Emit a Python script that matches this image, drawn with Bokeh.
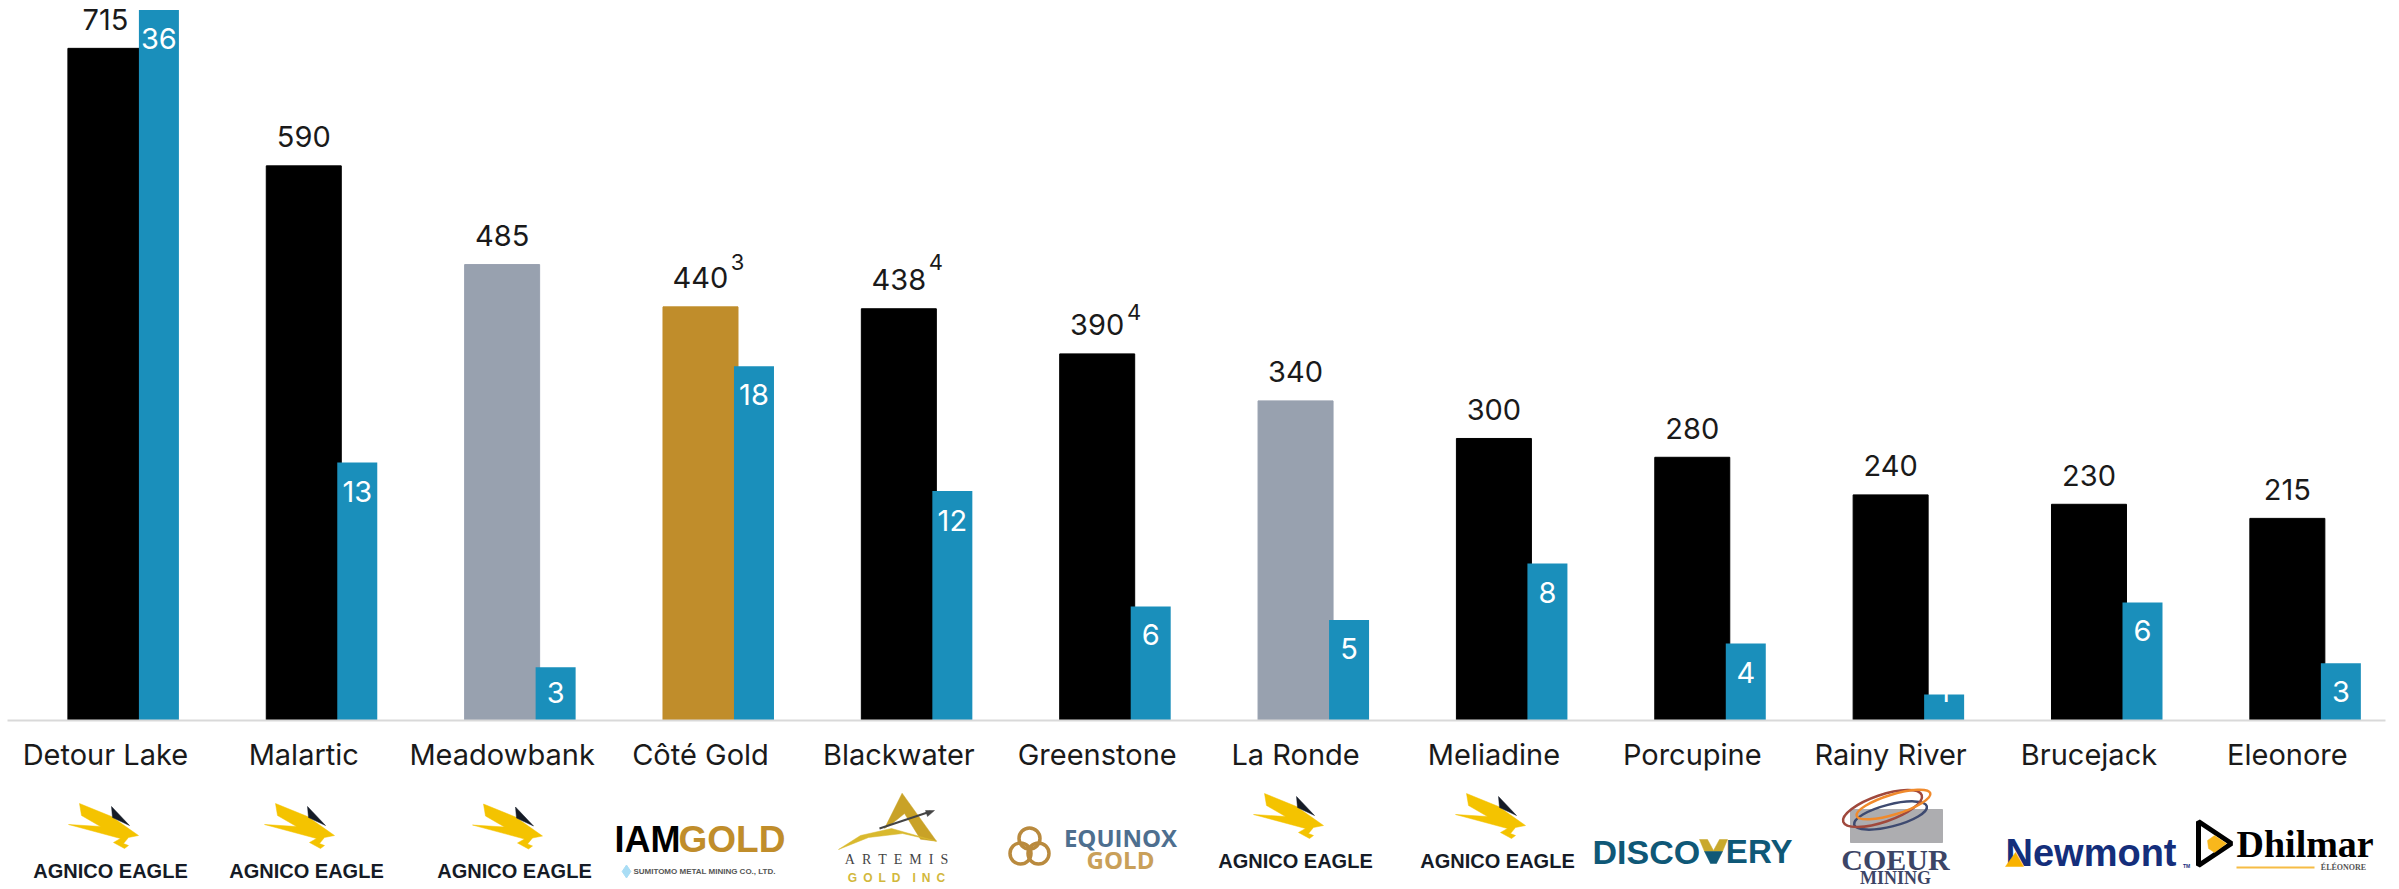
from bokeh.plotting import figure
from bokeh.layouts import column
from bokeh.models import Range1d, ColumnDataSource, FixedTicker
from bokeh.core.properties import value
from bokeh.embed import file_html
from bokeh.resources import INLINE

mines = ["Detour Lake", "Malartic", "Meadowbank", "Côté Gold", "Blackwater", "Greenstone",
         "La Ronde", "Meliadine", "Porcupine", "Rainy River", "Brucejack", "Eleonore"]
production = [715, 590, 485, 440, 438, 390, 340, 300, 280, 240, 230, 215]
bar_colors = ["#000000", "#000000", "#98A1AF", "#C08D2B", "#000000", "#000000",
              "#98A1AF", "#000000", "#000000", "#000000", "#000000", "#000000"]
second_values = [36, 13.07, 2.7, 17.95, 11.63, 5.78, 5.09, 7.95, 3.9, 1.32, 5.98, 2.9]
second_labels = ["36", "13", "3", "18", "12", "6", "5", "8", "4", "", "6", "3"]
footnotes = ["", "", "", "3", "4", "4", "", "", "", "", "", ""]

FONT = "Inter"
W = 2392
xs = list(range(len(mines)))
p = figure(width=W, height=781, output_backend="svg", toolbar_location=None,
           x_range=Range1d(-0.4936, 11.4948), y_range=Range1d(0, 757.4),
           min_border_left=7, min_border_right=7, min_border_top=8, min_border_bottom=61)
p.extra_y_ranges = {"second": Range1d(0, 36.07)}
p.xgrid.visible = False
p.ygrid.visible = False
p.yaxis.visible = False
p.outline_line_color = None
p.background_fill_color = "white"

ax = p.xaxis[0]
ax.ticker = FixedTicker(ticks=xs)
ax.major_label_overrides = {i: m for i, m in enumerate(mines)}
ax.major_tick_line_color = None
ax.minor_tick_line_color = None
ax.axis_line_color = "#D9D9D9"
ax.axis_line_width = 2
ax.major_label_text_font = FONT
ax.major_label_text_font_size = "29px"
ax.major_label_text_color = "#1A1A1A"
ax.major_label_standoff = 10

src = ColumnDataSource(dict(x=xs, top=production, color=bar_colors, label=[str(v) for v in production]))
p.vbar(x="x", top="top", bottom=0, width=75 / 198.36, color="color", source=src)

offs = 53.5 / 198.36
src2 = ColumnDataSource(dict(x=[i + offs for i in xs], top=second_values, label=second_labels,
                             dy=[28.5, 28.5, 25, 28.5, 29.5, 28.5, 28.5, 28.5, 29, 0, 28.5, 28.5]))
p.vbar(x="x", top="top", bottom=0, width=40 / 198.36, fill_color="#1A8FBB", line_color="#1A8FBB",
       line_width=0, source=src2, y_range_name="second")
p.text(x="x", y="top", text="label", source=src2, y_range_name="second", y_offset="dy",
       text_color="white", text_font=value(FONT), text_font_size="29px",
       text_align="center", text_baseline="middle")
# The label of the smallest blue bar sits white-on-white above the bar in the source
p.text(x=[9 + offs], y=[second_values[9]], text=["1"], y_range_name="second", y_offset=-3,
       text_color="white", text_font=value(FONT), text_font_size="29px",
       text_align="center", text_baseline="middle")

p.text(x="x", y="top", text="label", source=src, y_offset=-29,
       text_color="#1A1A1A", text_font=value(FONT), text_font_size="29px",
       text_align="center", text_baseline="middle")

note_i = [i for i, f in enumerate(footnotes) if f]
src3 = ColumnDataSource(dict(x=note_i, y=[production[i] for i in note_i], label=[footnotes[i] for i in note_i],
                             dy=[-44.7, -47, -41.7]))
p.text(x="x", y="y", text="label", source=src3, x_offset=37, y_offset="dy",
       text_color="#1A1A1A", text_font=value(FONT), text_font_size="22px",
       text_align="center", text_baseline="middle")

# ---- company logos, redrawn in the strip under the axis (units are page pixels)
q = figure(width=W, height=108, output_backend="svg", toolbar_location=None,
           x_range=Range1d(7, 2385), y_range=Range1d(889, 781),
           min_border_left=7, min_border_right=7, min_border_top=0, min_border_bottom=0)
q.axis.visible = False
q.grid.visible = False
q.outline_line_color = None


def t(x, y, s, size, color, font="Liberation Sans", style="bold", align="center"):
    q.text(x=[x], y=[y], text=[s], text_color=color, text_font=value(font), text_font_size=f"{size}px",
           text_font_style=style, text_align=align, text_baseline="middle")


def poly(pts, color):
    q.patch(x=[a for a, _ in pts], y=[b for _, b in pts], fill_color=color, line_color=color, line_width=0.5)


BIRD = [(-31, -67), (1, -54), (28, -35), (18, -33), (13, -27), (18, -25), (14, -22), (3, -28), (10, -32),
        (-42, -46), (-10, -44), (-29, -55)]
BEAK = [(1, -64), (19, -45), (2, -53)]
for cx, cy in [(110, 870), (306, 870), (514, 870.5), (1295, 860), (1497, 860)]:
    poly([(cx + a, cy + b) for a, b in BIRD], "#F4C300")
    poly([(cx + a, cy + b) for a, b in BEAK], "#151B26")
    t(cx, cy, "AGNICO EAGLE", 20, "#151B26")

# IAMGOLD
t(680, 839, "IAM", 36, "#000000", align="right")
t(678, 839, "GOLD", 37, "#C08D2B", align="left")
q.scatter(x=[626], y=[871], marker="diamond", size=13, color="#A9DDF5")
t(704, 871, "SUMITOMO METAL MINING CO., LTD.", 8, "#555555")

# Artemis
poly([(901.6, 792.7), (936, 840.7), (920, 838.7), (904, 813), (893, 822), (884, 828)], "#C9A227")
poly([(838, 849), (860, 835), (891, 828), (936, 840.7), (902, 833), (868, 837)], "#D9B92E")
q.line(x=[879, 930], y=[828, 811], line_color="#444444", line_width=2)
poly([(925, 810), (934, 810), (927, 816)], "#444444")
t(896, 859, "A\u2002R\u2002T\u2002E\u2002M\u2002I\u2002S", 14, "#444444", font="Liberation Serif", style="normal")
t(896, 877, "G\u2002O\u2002L\u2002D\u2002\u2002I\u2002N\u2002C", 12, "#D2B83C")

# Equinox
q.scatter(x=[1029, 1020, 1038], y=[838, 853, 853], marker="circle", size=21, fill_alpha=0,
          line_color="#B98A3E", line_width=3.5)
t(1120, 837, "EQUINOX", 24, "#4E6F8F", font="Open Sans")
t(1120, 859, "GOLD", 24, "#C9A05A", font="Open Sans")

# Discovery
t(1592, 851, "DISCO", 34, "#0F5877", align="left")
t(1792, 851, "ERY", 33, "#0F5877", align="right")
poly([(1699, 839), (1707, 839), (1713, 850), (1719, 839), (1727, 839), (1722, 851), (1704, 851)], "#C9A92C")
poly([(1704, 851), (1722, 851), (1716, 863), (1710, 863)], "#0F5877")

# Coeur
q.quad(left=[1850], right=[1942], top=[809], bottom=[842], color="#ADADB0")
q.ellipse(x=[1890], y=[815], width=75, height=22, angle=0.25, fill_alpha=0, line_color="#3E4A70", line_width=2.5)
q.ellipse(x=[1882], y=[808], width=83, height=27, angle=0.33, fill_alpha=0, line_color="#A0493D", line_width=2.5)
q.ellipse(x=[1893], y=[804], width=77, height=20, angle=0.3, fill_alpha=0, line_color="#F08A2C", line_width=2.5)
t(1895, 859, "COEUR", 30, "#3C4566", font="Liberation Serif")
t(1895, 877, "MINING", 18, "#3C4566", font="Liberation Serif")

# Newmont
t(2005, 852, "Newmont", 38, "#142E7B", align="left")
poly([(2005, 866), (2015, 852), (2023, 866)], "#F9B200")
t(2186, 865, "TM", 5, "#142E7B")

# Dhilmar
q.patch(x=[2198, 2231, 2198], y=[821, 843, 865], fill_color="white", line_color="#000000", line_width=5)
poly([(2214, 835), (2226, 843), (2214, 852), (2208, 848), (2207, 840)], "#F8B71C")
t(2236, 843, "Dhilmar", 38, "#000000", font="Liberation Serif", align="left")
q.line(x=[2236, 2314], y=[867, 867], line_color="#F6BC45", line_width=2)
t(2343, 867, "ÉLÉONORE", 8, "#555555", font="Liberation Serif")

page = column(p, q, spacing=0)
open("out.html", "w").write(file_html(page, INLINE))
